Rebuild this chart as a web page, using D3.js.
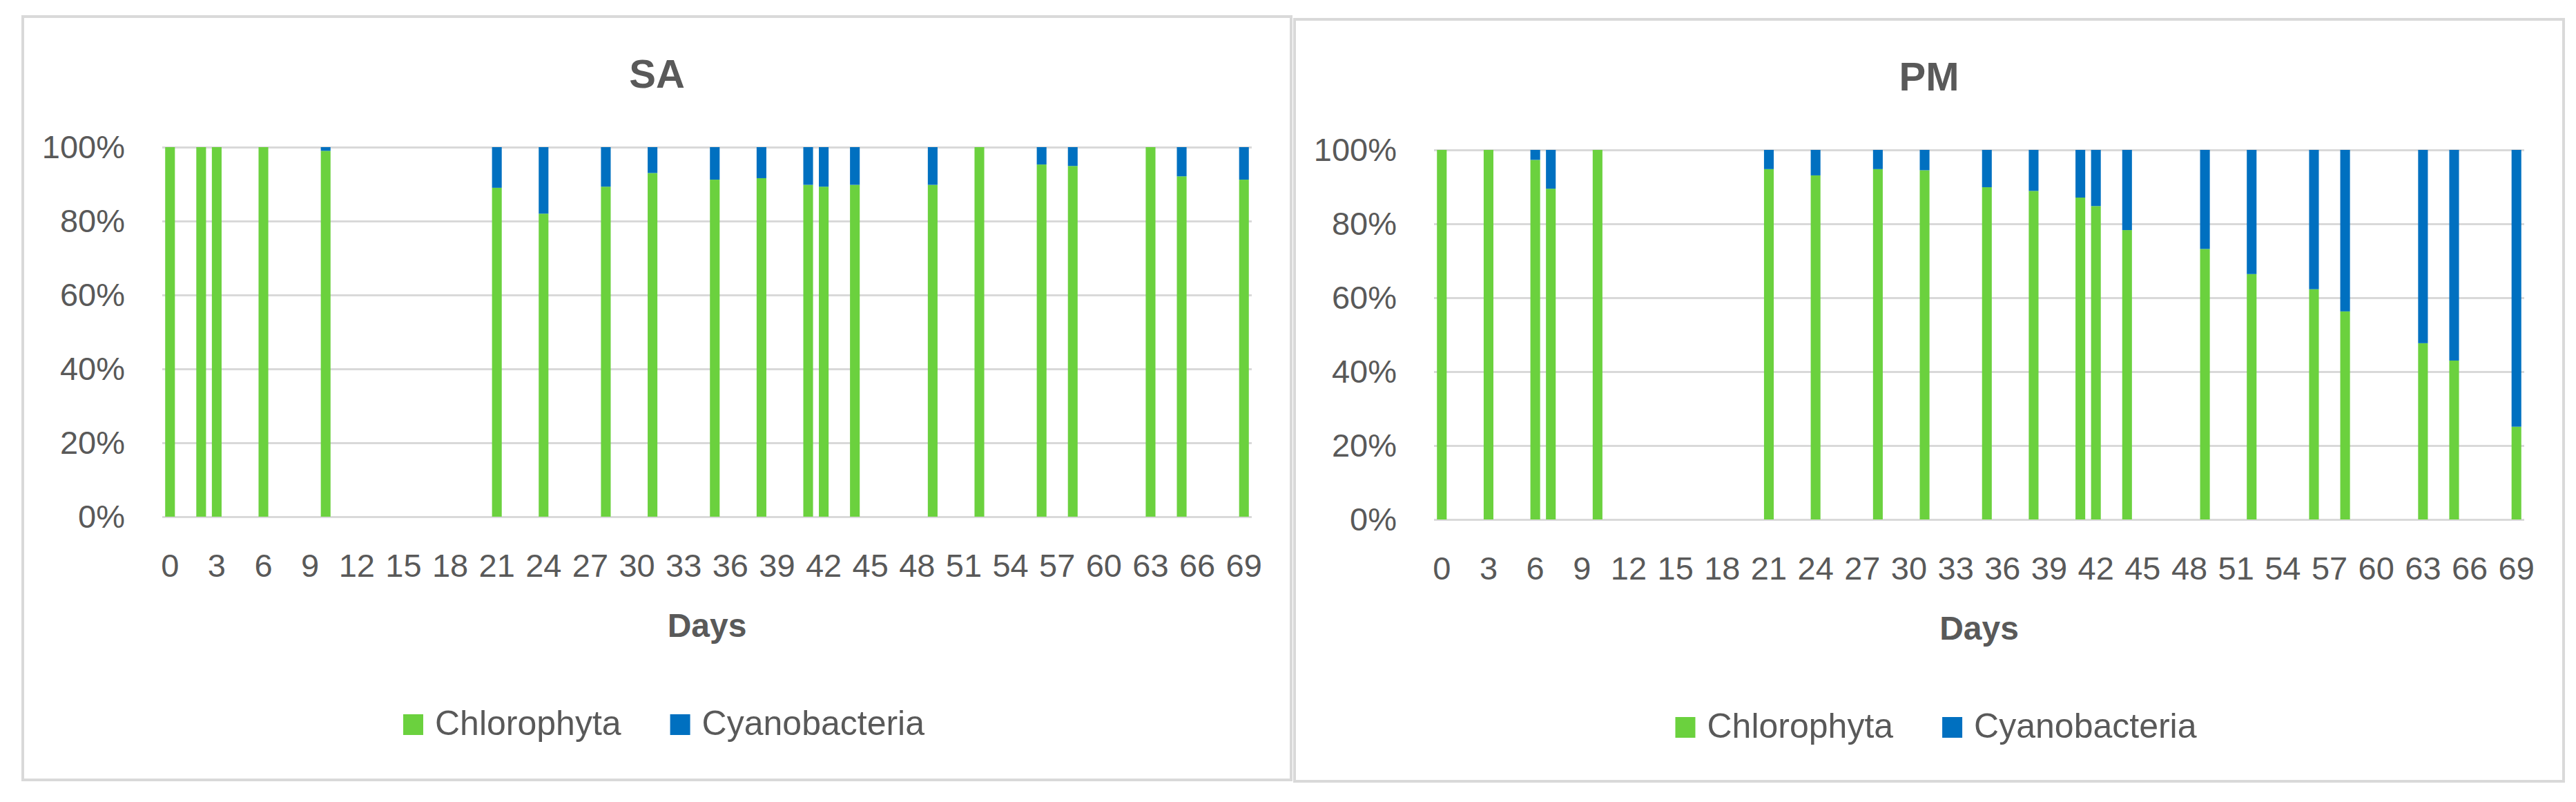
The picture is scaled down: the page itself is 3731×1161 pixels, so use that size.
<!DOCTYPE html>
<html>
<head>
<meta charset="utf-8">
<script src="https://cdn.jsdelivr.net/npm/d3@7"></script>
<style>
body { margin: 0; background: #fff; }
</style>
</head>
<body>
<div id="canvas"></div>
<script>
"use strict"

// every sampled day on the category axis (0..69)
let allDays = [0, 1, 2, 3, 4, 5, 6, 7, 8, 9, 10, 11, 12, 13, 14, 15, 16, 17, 18, 19,
    20, 21, 22, 23, 24, 25, 26, 27, 28, 29, 30, 31, 32, 33, 34, 35, 36, 37, 38, 39,
    40, 41, 42, 43, 44, 45, 46, 47, 48, 49, 50, 51, 52, 53, 54, 55, 56, 57, 58, 59,
    60, 61, 62, 63, 64, 65, 66, 67, 68, 69]
let xTickLabels = [0, 3, 6, 9, 12, 15, 18, 21, 24, 27, 30, 33, 36, 39, 42, 45, 48, 51, 54, 57, 60, 63, 66, 69]
let yTicks = [0, 0.2, 0.4, 0.6, 0.8, 1]
let seriesNames = ["Chlorophyta", "Cyanobacteria"]

let saDays = [0, 2, 3, 6, 10, 21, 24, 28, 31, 35, 38, 41, 42, 44, 49, 52, 56, 58, 63, 65, 69]
let saChlorophyta = [100, 100, 100, 100, 99, 89, 82, 89.3, 93, 91.2, 91.6, 89.8, 89.3, 89.8, 89.8, 100, 95.3, 94.9, 100, 92.1, 91.2]
let saCyanobacteria = [0, 0, 0, 0, 1, 11, 18, 10.7, 7, 8.8, 8.4, 10.2, 10.7, 10.2, 10.2, 0, 4.7, 5.1, 0, 7.9, 8.8]

let pmDays = [0, 3, 6, 7, 10, 21, 24, 28, 31, 35, 38, 41, 42, 44, 49, 52, 56, 58, 63, 65, 69]
let pmChlorophyta = [100, 100, 97.3, 89.5, 100, 94.8, 93.1, 94.8, 94.5, 89.9, 88.9, 87.1, 84.8, 78.3, 73.2, 66.4, 62.3, 56.3, 47.7, 43, 25.1]
let pmCyanobacteria = [0, 0, 2.7, 10.5, 0, 5.2, 6.9, 5.2, 5.5, 10.1, 11.1, 12.9, 15.2, 21.7, 26.8, 33.6, 37.7, 43.7, 52.3, 57, 74.9]

let colors = { Chlorophyta: "#6bd13e", Cyanobacteria: "#0070c0" }
let textColor = "#595959"
let gridColor = "#d9d9d9"
let fontFamily = "'Liberation Sans', Arial, sans-serif"

let svgWidth = 3731
let svgHeight = 1161

let margin = { top: 189, right: 57, left: 202 }
let plotHeight = 535

let svg = d3.select("#canvas")
    .append("svg")
    .attr("width", svgWidth)
    .attr("height", svgHeight)
    .style("font-family", fontFamily)

let panels = [
    { title: "SA", days: saDays, chloro: saChlorophyta, cyano: saCyanobacteria, x: 33, y: 24, w: 1837, h: 1105 },
    { title: "PM", days: pmDays, chloro: pmChlorophyta, cyano: pmCyanobacteria, x: 1875, y: 28, w: 1838, h: 1103 }
]

panels.forEach(drawPanel)

function drawPanel(panel) {
    let g = svg.append("g")
        .attr("transform", `translate(${panel.x},${panel.y})`)

    g.append("rect")
        .attr("width", panel.w)
        .attr("height", panel.h)
        .attr("fill", "#fff")
        .attr("stroke", gridColor)
        .attr("stroke-width", 4)

    let plotWidth = panel.w - margin.left - margin.right
    let viz = g.append("g")
        .attr("transform", `translate(${margin.left},${margin.top})`)

    let xScale = d3.scaleBand()
        .domain(allDays)
        .range([0, plotWidth])

    let yScale = d3.scaleLinear()
        .domain([0, 1])
        .range([plotHeight, 0])

    // y axis + horizontal gridlines
    viz.append("g")
        .call(d3.axisLeft(yScale)
            .tickValues(yTicks)
            .tickSize(-plotWidth)
            .tickPadding(54)
            .tickFormat(d3.format(".0%")))
        .call(ax => ax.select(".domain").remove())
        .call(ax => ax.selectAll(".tick line").attr("stroke", gridColor).attr("stroke-width", 3))
        .call(ax => ax.selectAll(".tick text")
            .attr("fill", textColor)
            .attr("font-size", 47)
            .attr("font-family", fontFamily))

    // x axis labels, every third day
    viz.append("g")
        .attr("transform", `translate(0,${plotHeight})`)
        .call(d3.axisBottom(xScale)
            .tickValues(xTickLabels)
            .tickSize(0)
            .tickPadding(54))
        .call(ax => ax.select(".domain").remove())
        .call(ax => ax.selectAll(".tick text")
            .attr("fill", textColor)
            .attr("font-size", 47)
            .attr("font-family", fontFamily))

    let rows = panel.days.map(function (day, i) {
        return { day: day, Chlorophyta: panel.chloro[i], Cyanobacteria: panel.cyano[i] }
    })

    let stacked = d3.stack()
        .keys(seriesNames)
        .offset(d3.stackOffsetExpand)(rows)

    let barWidth = xScale.bandwidth() / 1.6

    viz.selectAll("g.series")
        .data(stacked)
        .join("g")
        .classed("series", true)
        .attr("fill", function (s) {
            return colors[s.key]
        })
        .selectAll("rect")
        .data(function (s) {
            return s
        })
        .join("rect")
        .attr("x", function (d) {
            return xScale(d.data.day) + (xScale.bandwidth() - barWidth) / 2
        })
        .attr("width", barWidth)
        .attr("y", function (d) {
            return yScale(d[1])
        })
        .attr("height", function (d) {
            return yScale(d[0]) - yScale(d[1])
        })

    // chart title
    g.append("text")
        .attr("x", panel.w / 2)
        .attr("y", 103)
        .attr("text-anchor", "middle")
        .attr("font-size", 58)
        .attr("font-weight", "bold")
        .attr("fill", textColor)
        .text(panel.title)

    // axis title
    g.append("text")
        .attr("x", margin.left + plotWidth / 2)
        .attr("y", 898)
        .attr("text-anchor", "middle")
        .attr("font-size", 48)
        .attr("font-weight", "bold")
        .attr("fill", textColor)
        .text("Days")

    // legend
    let legend = g.append("g")
    let cursor = 0
    seriesNames.forEach(function (name, i) {
        if (i > 0) cursor += 71
        legend.append("rect")
            .attr("x", cursor)
            .attr("y", -30)
            .attr("width", 29)
            .attr("height", 30)
            .attr("fill", colors[name])
        cursor += 29 + 17
        let label = legend.append("text")
            .attr("x", cursor)
            .attr("y", 0)
            .attr("font-size", 50)
            .attr("fill", textColor)
            .text(name)
        cursor += label.node().getComputedTextLength()
    })
    legend.attr("transform", `translate(${panel.w / 2 + 10 - cursor / 2},1040)`)
}
</script>
</body>
</html>
